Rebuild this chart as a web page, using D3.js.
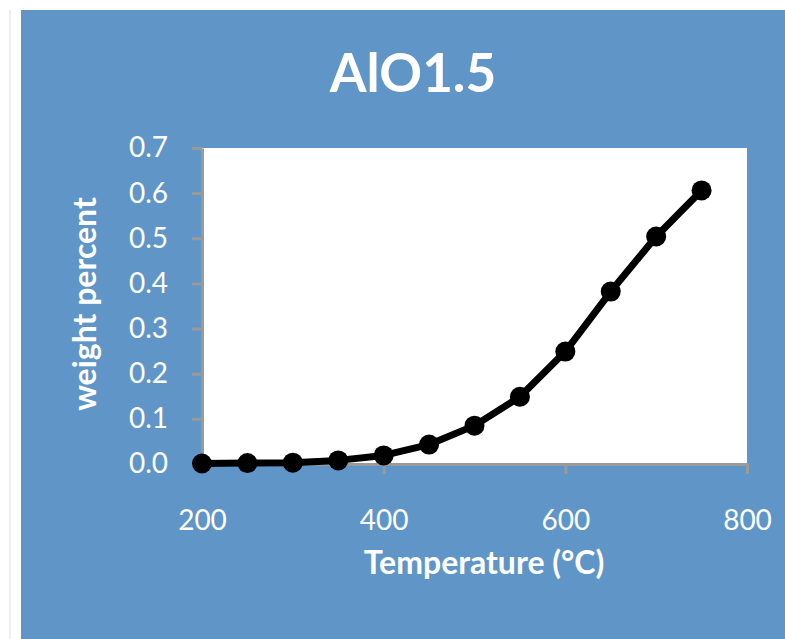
<!DOCTYPE html>
<html>
<head>
<meta charset="utf-8">
<script src="https://cdn.jsdelivr.net/npm/d3@7"></script>
<style>
  body { margin: 0; background: #fff; }
  text { font-family: Lato, "Open Sans", sans-serif; fill: #fff; }
</style>
</head>
<body>
<div id="chart"></div>
<script>
// AlO1.5 weight percent vs temperature
const temps   = [200, 250, 300, 350, 400, 450, 500, 550, 600, 650, 700, 750];
const weights = [0.001, 0.002, 0.003, 0.008, 0.019, 0.043, 0.085, 0.149, 0.249, 0.382, 0.504, 0.606];
const xTicks  = [200, 400, 600, 800];
const yTicks  = [0, 0.1, 0.2, 0.3, 0.4, 0.5, 0.6, 0.7];

const W = 785, H = 639;
const svg = d3.select('#chart').append('svg').attr('width', W).attr('height', H);

// chart background with faint left shadow
svg.append('line').attr('x1', 10).attr('x2', 10).attr('y1', 10).attr('y2', H)
  .attr('stroke', '#eee').attr('stroke-width', 2);
svg.append('rect').attr('x', 21).attr('y', 10).attr('width', W - 21).attr('height', H - 10)
  .attr('fill', '#6096c7');

const pad = { l: 202, r: 747, t: 148, b: 464 };
const x = d3.scaleLinear().domain([200, 800]).range([pad.l, pad.r]);
const y = d3.scaleLinear().domain([0, 0.7]).range([pad.b, pad.t]);

svg.append('rect').attr('x', pad.l).attr('y', pad.t)
  .attr('width', pad.r - pad.l).attr('height', pad.b - pad.t).attr('fill', '#fff');

const axisX = d3.axisBottom(x).tickValues(xTicks).tickSize(10).tickPadding(36).tickSizeOuter(0);
const axisY = d3.axisLeft(y).tickValues(yTicks).tickSize(10).tickPadding(24).tickSizeOuter(0)
  .tickFormat(d3.format('.1f'));

function styleAxis(g) {
  g.select('.domain').attr('stroke', '#9a9a9a').attr('stroke-width', 3);
  g.selectAll('.tick line').attr('stroke', '#9a9a9a').attr('stroke-width', 3);
  g.selectAll('.tick text').attr('fill', '#fff').style('font-size', '28px')
    .style('font-family', 'Lato, "Open Sans", sans-serif');
}

svg.append('g').attr('transform', 'translate(0,' + pad.b + ')').call(axisX).call(styleAxis);
svg.append('g').attr('transform', 'translate(' + pad.l + ',0)').call(axisY).call(styleAxis);

// series
const pts = temps.map((t, i) => [x(t), y(weights[i])]);
svg.append('path').attr('d', d3.line()(pts))
  .attr('fill', 'none').attr('stroke', '#000').attr('stroke-width', 7)
  .attr('stroke-linejoin', 'round');
svg.append('g').selectAll('circle').data(pts).enter().append('circle')
  .attr('cx', d => d[0]).attr('cy', d => d[1]).attr('r', 10).attr('fill', '#000');

// titles
svg.append('text').attr('x', 413).attr('y', 92).attr('text-anchor', 'middle')
  .style('font-size', '53px').style('font-weight', 'bold').text('AlO1.5');
svg.append('text').attr('x', 484).attr('y', 574).attr('text-anchor', 'middle')
  .style('font-size', '32px').style('font-weight', 'bold').text('Temperature (°C)');
svg.append('text').attr('transform', 'translate(96,304) rotate(-90)').attr('text-anchor', 'middle')
  .style('font-size', '32px').style('font-weight', 'bold').text('weight percent');
</script>
</body>
</html>
